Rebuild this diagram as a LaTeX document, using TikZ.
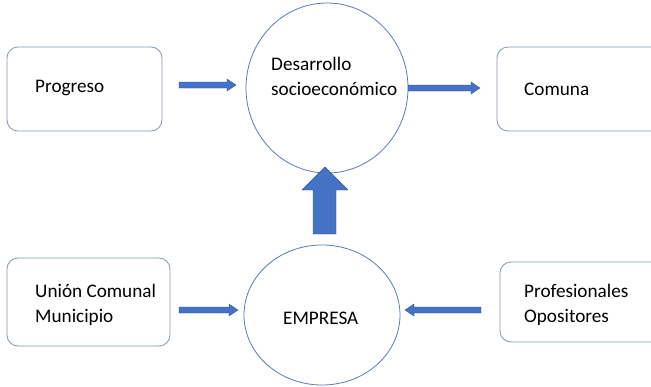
\documentclass[tikz,border=0pt]{standalone}
\usepackage{fontspec}
\setmainfont{Carlito}
\usetikzlibrary{shapes.geometric}
\definecolor{boxline}{HTML}{8497B0}
\definecolor{ringline}{HTML}{5B7BB4}
\definecolor{arrowfill}{HTML}{4472C4}
\definecolor{arrowline}{HTML}{2F528F}
\tikzset{
  panel/.style={draw=boxline, line width=0.8pt, rounded corners=11pt, fill=white},
  ring/.style={draw=ringline, line width=0.8pt, fill=white},
  label/.style={font=\fontsize{19.2}{25}\selectfont, align=left, inner sep=0pt, anchor=west},
  flow/.style={fill=arrowfill, draw=arrowline, line width=0.4pt},
}
\begin{document}
\begin{tikzpicture}[x=1pt,y=-1pt]
  \useasboundingbox (0,0) rectangle (651,386);
  \clip (0,0) rectangle (651,386);
  % boxes
  \draw[panel] (7,47) rectangle (162,131);
  \draw[panel] (497,47) rectangle (670,131);
  \draw[panel] (7,258) rectangle (170,346);
  \draw[panel] (500,262) rectangle (670,342);
  % ellipses
  \draw[ring] (327,88) ellipse [x radius=81, y radius=85];
  \draw[ring] (322,315) ellipse [x radius=78, y radius=70];
  % texts
  \node[label] (progreso) at (35,88) {Progreso};
  \node[label] (comuna) at (524,89) {Comuna};
  \node[label] (desarrollo) at (271,76) {Desarrollo\\socioeconómico};
  \node[label] (union) at (35,305) {Unión Comunal\\Municipio};
  \node[label] (prof) at (524,305) {Profesionales\\Opositores};
  \node[label] (empresa) at (283,318) {EMPRESA};
  % block arrows
  \draw[flow] (179,82) -- (227,82) -- (227,79) -- (236,85) -- (227,91) -- (227,88) -- (179,88) -- cycle;
  \draw[flow] (408,85) -- (471,85) -- (471,82) -- (480,88) -- (471,94) -- (471,91) -- (408,91) -- cycle;
  \draw[flow] (179,307) -- (229,307) -- (229,304) -- (238,310) -- (229,316) -- (229,313) -- (179,313) -- cycle;
  \draw[flow] (481,307) -- (414,307) -- (414,304) -- (405,310) -- (414,316) -- (414,313) -- (481,313) -- cycle;
  \draw[flow] (313,234) -- (313,190) -- (302,190) -- (325,167) -- (348,190) -- (336,190) -- (336,234) -- cycle;
\end{tikzpicture}
\end{document}
